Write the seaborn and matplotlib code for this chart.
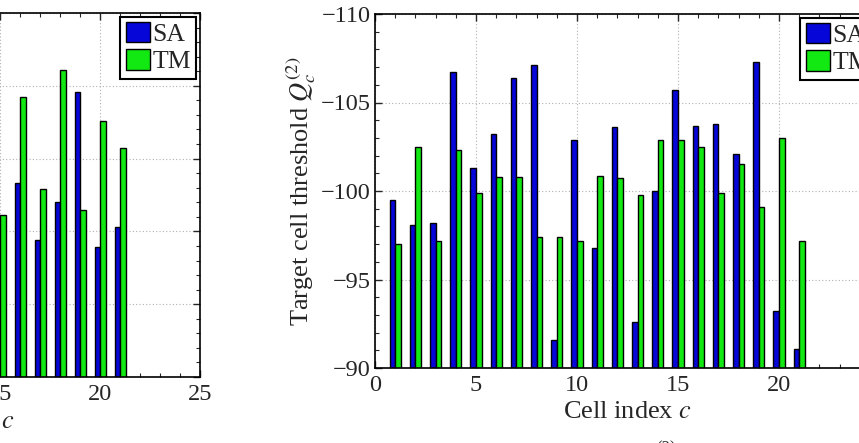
import numpy as np
import pandas as pd
import seaborn as sns
import matplotlib.pyplot as plt
from matplotlib.ticker import MultipleLocator

sns.set_style("white")
plt.rcParams['font.family'] = ['Liberation Serif', 'DejaVu Serif']
plt.rcParams['mathtext.fontset'] = 'stix'

# ---- data ----
methods = ["SA", "TM"]

# left panel (only cells 15..21 visible)
cells_left = [15, 16, 17, 18, 19, 20, 21]
sa_left = [np.nan, -98.3, -94.4, -97.0, -104.6, -93.9, -95.3]
tm_left = [-96.1, -104.2, -97.9, -106.1, -96.5, -102.6, -100.7]

# right panel: target cell threshold Q_c^(2)
cells_right = list(range(1, 22))
sa_right = [-99.5, -98.1, -98.2, -106.7, -101.3, -103.2, -106.4, -107.1, -91.6, -102.9,
            -96.8, -103.6, -92.6, -100.0, -105.7, -103.7, -103.8, -102.1, -107.3, -93.2, -91.1]
tm_right = [-97.0, -102.5, -97.2, -102.3, -99.9, -100.8, -100.8, -97.4, -97.4, -97.2,
            -100.85, -100.75, -99.8, -102.9, -102.9, -102.5, -99.9, -101.5, -99.1, -103.0, -97.2]

x_ticks = [0, 5, 10, 15, 20, 25]
right_yticks = [-110, -105, -100, -95, -90]

colors = {"SA": "#0606d8", "TM": "#12e812"}


def make_df(cells, sa, tm):
    return pd.DataFrame({
        "cell": cells + cells,
        "value": sa + tm,
        "method": ["SA"] * len(cells) + ["TM"] * len(cells),
    })


W, H = 859, 443
fig = plt.figure(figsize=(W / 100, H / 100), dpi=100)

def px_axes(left, right, top, bottom):
    return fig.add_axes([left / W, 1 - bottom / H, (right - left) / W, (bottom - top) / H])

ax_l = px_axes(-300, 200, 13, 377)
ax_r = px_axes(375, 880, 14, 368)


def style(ax, df, ylim, yticks):
    sns.barplot(data=df, x="cell", y="value", hue="method", hue_order=methods,
                palette=colors, saturation=1, native_scale=True, width=0.55, errorbar=None,
                edgecolor="black", linewidth=1.0, ax=ax)
    ax.set_xlim(0, 25)
    ax.set_ylim(*ylim)
    ax.set_xticks(x_ticks)
    ax.set_yticks(yticks)
    ax.xaxis.set_minor_locator(MultipleLocator(1))
    ax.yaxis.set_minor_locator(MultipleLocator(1))
    ax.tick_params(which="both", direction="in", top=True, right=True,
                   bottom=True, left=True, labelsize=17.5)
    ax.tick_params(axis="x", which="both", pad=5)
    ax.tick_params(axis="y", which="both", pad=3)
    ax.tick_params(which="major", length=5, width=1)
    ax.tick_params(which="minor", length=3, width=0.8)
    ax.grid(True, which="major", linestyle=(0, (1, 2)), color="#b0b0b0", linewidth=0.8)
    ax.set_axisbelow(True)
    for s in ax.spines.values():
        s.set_color("black")
        s.set_linewidth(1.2)
    ax.set_xlabel("Cell index $c$", fontsize=19, labelpad=4)
    handles, labels = ax.get_legend_handles_labels()
    if ax.get_legend() is not None:
        ax.get_legend().remove()
    leg = ax.legend(handles, labels, loc="upper right", fontsize=18.5, frameon=True,
                    fancybox=False, framealpha=1, edgecolor="black",
                    handlelength=0.95, handleheight=0.85, handletextpad=0.1,
                    borderpad=0.2, labelspacing=0.12, borderaxespad=0.15)
    leg.get_frame().set_linewidth(1.5)


style(ax_l, make_df(cells_left, sa_left, tm_left), (-85, -110), [-110, -105, -100, -95, -90, -85])
style(ax_r, make_df(cells_right, sa_right, tm_right), (-90, -110), right_yticks)
ax_l.set_ylabel("")
ax_r.set_ylabel("Target cell threshold $Q_c^{(2)}$", fontsize=19, labelpad=2)

fig.text(666 / W, 1 - 448 / H, "(2)", fontsize=12, ha="center", va="center")

fig.savefig("out.png", dpi=100)
